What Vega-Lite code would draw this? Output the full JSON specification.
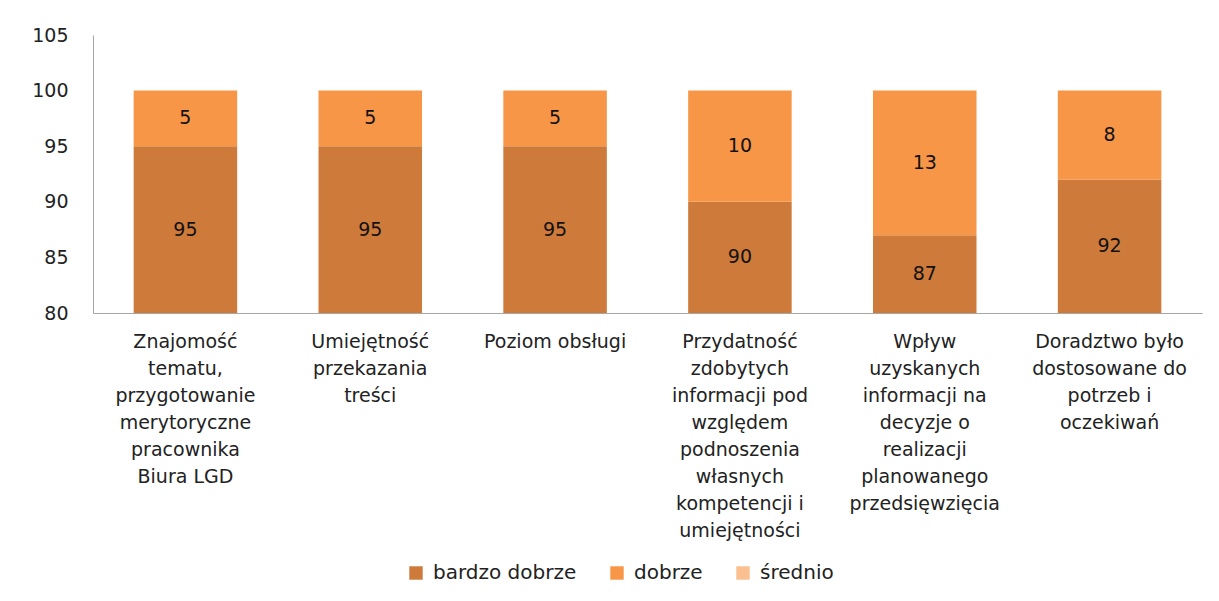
{
  "$schema": "https://vega.github.io/schema/vega-lite/v6.json",
  "width": 1109,
  "height": 278,
  "autosize": {"type": "none"},
  "padding": {"left": 93, "top": 35, "right": 17, "bottom": 288},
  "background": "white",
  "config": {"view": {"stroke": null}, "font": "DejaVu Sans"},
  "data": {
    "values": [
      {"cat": "Znajomość|tematu,|przygotowanie|merytoryczne|pracownika|Biura LGD", "series": "bardzo dobrze", "value": 95},
      {"cat": "Znajomość|tematu,|przygotowanie|merytoryczne|pracownika|Biura LGD", "series": "dobrze", "value": 5},
      {"cat": "Znajomość|tematu,|przygotowanie|merytoryczne|pracownika|Biura LGD", "series": "średnio", "value": 0},
      {"cat": "Umiejętność|przekazania|treści", "series": "bardzo dobrze", "value": 95},
      {"cat": "Umiejętność|przekazania|treści", "series": "dobrze", "value": 5},
      {"cat": "Umiejętność|przekazania|treści", "series": "średnio", "value": 0},
      {"cat": "Poziom obsługi", "series": "bardzo dobrze", "value": 95},
      {"cat": "Poziom obsługi", "series": "dobrze", "value": 5},
      {"cat": "Poziom obsługi", "series": "średnio", "value": 0},
      {"cat": "Przydatność|zdobytych|informacji pod|względem|podnoszenia|własnych|kompetencji i|umiejętności", "series": "bardzo dobrze", "value": 90},
      {"cat": "Przydatność|zdobytych|informacji pod|względem|podnoszenia|własnych|kompetencji i|umiejętności", "series": "dobrze", "value": 10},
      {"cat": "Przydatność|zdobytych|informacji pod|względem|podnoszenia|własnych|kompetencji i|umiejętności", "series": "średnio", "value": 0},
      {"cat": "Wpływ|uzyskanych|informacji na|decyzje o|realizacji|planowanego|przedsięwzięcia", "series": "bardzo dobrze", "value": 87},
      {"cat": "Wpływ|uzyskanych|informacji na|decyzje o|realizacji|planowanego|przedsięwzięcia", "series": "dobrze", "value": 13},
      {"cat": "Wpływ|uzyskanych|informacji na|decyzje o|realizacji|planowanego|przedsięwzięcia", "series": "średnio", "value": 0},
      {"cat": "Doradztwo było|dostosowane do|potrzeb i|oczekiwań", "series": "bardzo dobrze", "value": 92},
      {"cat": "Doradztwo było|dostosowane do|potrzeb i|oczekiwań", "series": "dobrze", "value": 8},
      {"cat": "Doradztwo było|dostosowane do|potrzeb i|oczekiwań", "series": "średnio", "value": 0}
    ]
  },
  "transform": [
    {"stack": "value", "groupby": ["cat"], "sort": [{"field": "series", "order": "ascending"}], "as": ["y0", "y1"]},
    {"calculate": "(max(datum.y0, 80) + datum.y1) / 2", "as": "ymid"}
  ],
  "encoding": {
    "x": {
      "field": "cat",
      "type": "nominal",
      "sort": null,
      "title": null,
      "scale": {"paddingInner": 0.44, "paddingOuter": 0.22},
      "axis": {
        "labelExpr": "split(datum.label, '|')",
        "labelAngle": 0,
        "labelFontSize": 19,
        "labelLineHeight": 27,
        "labelColor": "#222222",
        "labelLimit": 0,
        "labelPadding": 19,
        "ticks": false,
        "domainColor": "#a6a6a6",
        "labelBaseline": "top"
      }
    }
  },
  "layer": [
    {
      "mark": {"type": "bar", "clip": true},
      "encoding": {
        "y": {
          "field": "y0",
          "type": "quantitative",
          "title": null,
          "scale": {"domain": [80, 105], "nice": false, "zero": false},
          "axis": {
            "values": [80, 85, 90, 95, 100, 105],
            "grid": false,
            "ticks": false,
            "labelFontSize": 19,
            "labelColor": "#222222",
            "labelPadding": 25,
            "domainColor": "#a6a6a6"
          }
        },
        "y2": {"field": "y1"},
        "color": {
          "field": "series",
          "type": "nominal",
          "scale": {"domain": ["bardzo dobrze", "dobrze", "średnio"], "range": ["#CD7A3A", "#F79646", "#FAC090"]},
          "legend": {
            "title": null,
            "orient": "none",
            "legendX": 313,
            "legendY": 528,
            "direction": "horizontal",
            "symbolType": "square",
            "symbolSize": 180,
            "symbolStrokeWidth": 0,
            "labelFontSize": 20,
            "labelColor": "#222222",
            "labelOffset": 7,
            "columnPadding": 30
          }
        }
      }
    },
    {
      "transform": [{"filter": "datum.value > 0"}],
      "mark": {"type": "text", "fontSize": 19, "color": "#111111", "baseline": "middle"},
      "encoding": {
        "y": {"field": "ymid", "type": "quantitative"},
        "text": {"field": "value", "type": "quantitative"}
      }
    }
  ]
}
